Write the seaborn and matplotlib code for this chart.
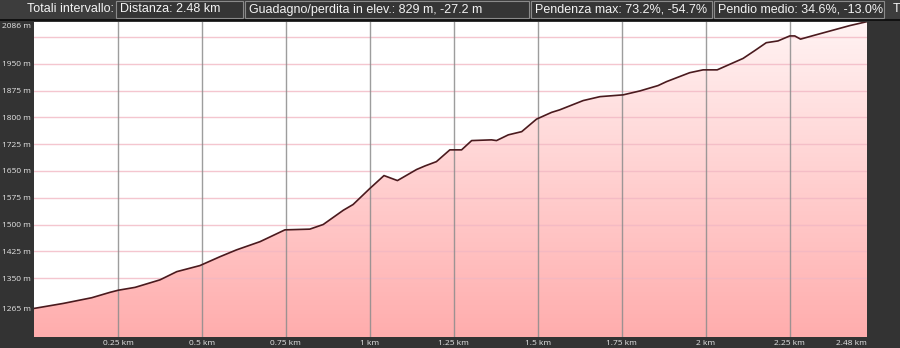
import numpy as np
import pandas as pd
import matplotlib
matplotlib.use("Agg")
import matplotlib.pyplot as plt
from matplotlib.patches import Rectangle
from matplotlib.colors import LinearSegmentedColormap
import seaborn as sns

# ---- data ----
dist_km = [0.0, 0.087, 0.172, 0.226, 0.251, 0.301, 0.375, 0.425, 0.494, 0.554,
           0.603, 0.673, 0.747, 0.821, 0.861, 0.921, 0.95, 1.0, 1.042, 1.082,
           1.139, 1.164, 1.198, 1.238, 1.273, 1.303, 1.362, 1.377, 1.412, 1.452,
           1.496, 1.541, 1.565, 1.635, 1.685, 1.754, 1.804, 1.858, 1.883, 1.952,
           1.992, 2.034, 2.111, 2.146, 2.18, 2.215, 2.25, 2.265, 2.282, 2.32,
           2.429, 2.48]
elev_m = [1265, 1279, 1295, 1310, 1316, 1324, 1345, 1368, 1385, 1410,
          1429, 1452, 1485, 1487, 1500, 1540, 1556, 1601, 1637, 1623,
          1654, 1664, 1676, 1709, 1709, 1735, 1737, 1735, 1751, 1760,
          1795, 1814, 1821, 1847, 1858, 1863, 1874, 1889, 1900, 1925,
          1933, 1933, 1965, 1987, 2009, 2014, 2028, 2028, 2019, 2029,
          2057, 2068]

x_ticks = [0.25, 0.5, 0.75, 1.0, 1.25, 1.5, 1.75, 2.0, 2.25, 2.48]
x_tick_labels = ["0.25 km", "0.5 km", "0.75 km", "1 km", "1.25 km", "1.5 km",
                 "1.75 km", "2 km", "2.25 km", "2.48 km"]
y_grid = [1350, 1425, 1500, 1575, 1650, 1725, 1800, 1875, 1950, 2025]
y_grid_labels = ["1350 m", "1425 m", "1500 m", "1575 m", "1650 m", "1725 m",
                 "1800 m", "1875 m", "1950 m", ""]
y_extra = [1265, 2056]
y_extra_labels = ["1265 m", "2086 m"]

header_items = ["Distanza: 2.48 km",
                "Guadagno/perdita in elev.: 829 m, -27.2 m",
                "Pendenza max: 73.2%, -54.7%",
                "Pendio medio: 34.6%, -13.0%"]
header_label = "Totali intervallo:"

df = pd.DataFrame({"km": dist_km, "elev": elev_m})

W, H = 900, 348
BG = "#333333"
fig = plt.figure(figsize=(W / 100, H / 100), dpi=100, facecolor=BG)
HFONT = ["Liberation Sans", "DejaVu Sans"]
HSIZE = 9.0

def fx(px):
    return px / W

def fy(py):
    return 1 - py / H

# header bar
fig.patches.append(Rectangle((0, fy(19)), 1, 19 / H, transform=fig.transFigure,
                             facecolor="#3d3d3d", edgecolor="none", zorder=0))
fig.patches.append(Rectangle((0, fy(21)), 1, 2 / H, transform=fig.transFigure,
                             facecolor="#111111", edgecolor="none", zorder=0))
fig.text(fx(27), fy(9.5), header_label, color="#f4f4f4", fontsize=HSIZE,
         family=HFONT, va="center", ha="left")
boxes = [(116, 243), (245, 529), (531, 712), (714, 884)]
for (x0, x1), t in zip(boxes, header_items):
    fig.patches.append(Rectangle((fx(x0), fy(18)), (x1 - x0) / W, 17 / H,
                                 transform=fig.transFigure, facecolor="#353535",
                                 edgecolor="#8a8a8a", linewidth=0.8, zorder=1))
    fig.text(fx(x0 + 4), fy(9.5), t, color="#f4f4f4", fontsize=HSIZE,
             family=HFONT, va="center", ha="left", zorder=2)
fig.text(fx(893), fy(9.5), "T", color="#f4f4f4", fontsize=HSIZE, family=HFONT,
         va="center", ha="left")

# plot area
ax = fig.add_axes([fx(34), 11 / H, 833 / W, 315 / H])
ax.set_facecolor("white")
YMIN, YMAX = 1185, 2067
ax.set_xlim(0, 2.48)
ax.set_ylim(YMIN, YMAX)

# gradient fill under the profile
fill = ax.fill_between(df["km"], df["elev"], YMIN, facecolor="none",
                       edgecolor="none")
cmap = LinearSegmentedColormap.from_list("pk", ["#ffadad", "#fff3f3"])
grad = np.linspace(0, 1, 256).reshape(-1, 1)
im = ax.imshow(grad, cmap=cmap, aspect="auto", origin="lower",
               extent=[0, 2.48, YMIN, YMAX], zorder=1)
im.set_clip_path(fill.get_paths()[0], transform=ax.transData)

# grid
for v in y_grid:
    ax.axhline(v, color="#f2b8c4", lw=1.0, alpha=0.8, zorder=2)
for v in x_ticks[:-1]:
    ax.axvline(v, color="#8c8c8c", lw=1.0, alpha=0.85, zorder=2)

sns.lineplot(data=df, x="km", y="elev", ax=ax, color="#4a1a1e", lw=1.2,
             zorder=3)

ax.set_xlabel("")
ax.set_ylabel("")
for s in ax.spines.values():
    s.set_visible(False)

ax.set_xticks(x_ticks)
ax.set_xticklabels(x_tick_labels)
ax.tick_params(axis="x", length=0, pad=2, labelsize=6, labelcolor="#e6e6e6")
for lab in ax.get_xticklabels():
    lab.set_family(["Open Sans", "DejaVu Sans"])
ax.get_xticklabels()[-1].set_horizontalalignment("right")

ax.set_yticks(y_grid)
ax.set_yticklabels(y_grid_labels)
ax.set_yticks(y_extra, minor=True)
ax.set_yticklabels(y_extra_labels, minor=True)
ax.tick_params(axis="y", which="both", length=0, pad=23, labelsize=6,
               labelcolor="#e6e6e6")
for lab in ax.get_yticklabels() + ax.get_yticklabels(minor=True):
    lab.set_horizontalalignment("left")
    lab.set_family(["Open Sans", "DejaVu Sans"])

fig.savefig("out.png", dpi=100, facecolor=BG)
